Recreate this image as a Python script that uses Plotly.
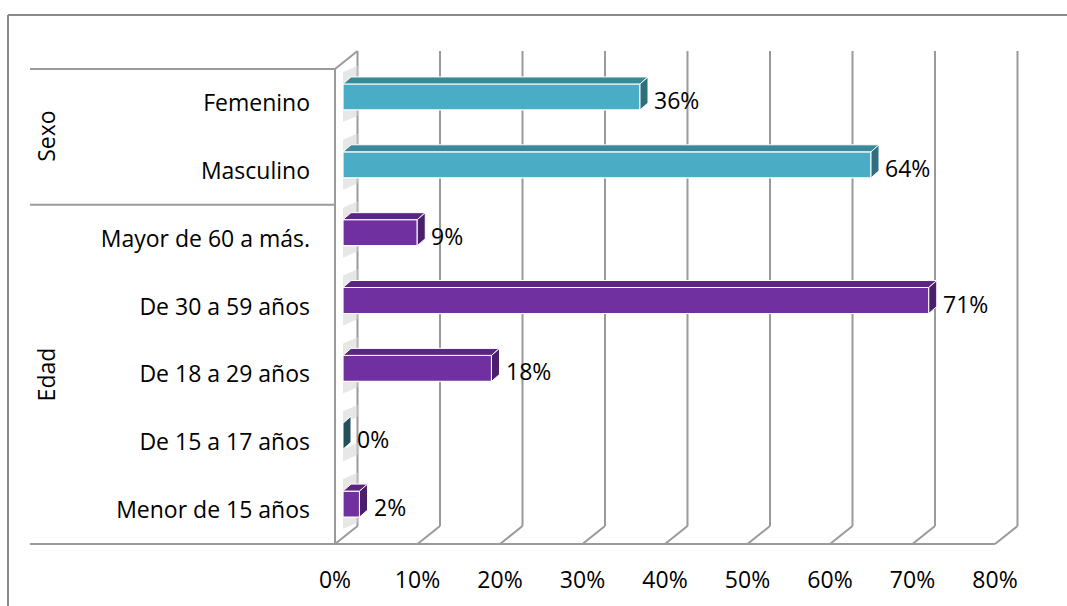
import plotly.graph_objects as go

# ---------------- data ----------------
categories = ["Menor de 15 años", "De 15 a 17 años", "De 18 a 29 años",
              "De 30 a 59 años", "Mayor de 60 a más.", "Masculino", "Femenino"]
values = [2, 0, 18, 71, 9, 64, 36]
groups = ["Edad", "Edad", "Edad", "Edad", "Edad", "Sexo", "Sexo"]
x_ticks = [0, 10, 20, 30, 40, 50, 60, 70, 80]
x_tick_labels = ["0%", "10%", "20%", "30%", "40%", "50%", "60%", "70%", "80%"]

# ---------------- geometry / style ----------------
W, H = 1067, 606
M_B = 46
PLOT_H = H - M_B
X0_PX, KX = 335.0, 8.25      # pixel of 0 %, pixels per percent
Y0_PX, KY = 510.1, 67.86     # pixel of first category centre, pixels per category
FONT = "Open Sans"
FS = 23

xr = [-X0_PX / KX, (W - X0_PX) / KX]
yr = [(Y0_PX - PLOT_H) / KY, Y0_PX / KY]

DX = 22.5 / KX     # full floor depth (x units)
DY = 18.0 / KY     # full floor depth (y units)
FDX, FDY = 8.0 / KX, 6.0 / KY   # bar front offset into depth
BDX, BDY = 8.0 / KX, 7.0 / KY   # bar depth
BW = 26.0 / KY     # bar thickness
SH = 12.0 / KY     # wall shadow extent

grid_col = "#9a9a9a"
colors = {"Sexo": ("#4BACC6", "#3A899B", "#2F6E7C"),
          "Edad": ("#7030A0", "#5A2682", "#4A1F6B")}

n = len(categories)
ypos = list(range(n))
y_lo, y_hi = -0.5, n - 0.5

fig = go.Figure()

# front faces of bars
for g in ["Sexo", "Edad"]:
    idx = [i for i in range(n) if groups[i] == g]
    fig.add_trace(go.Bar(
        orientation="h",
        x=[values[i] for i in idx],
        y=[ypos[i] + FDY for i in idx],
        base=FDX,
        width=BW,
        marker=dict(color=colors[g][0], line=dict(color="white", width=1.2)),
        hovertext=[categories[i] for i in idx],
        showlegend=False,
    ))

shapes = []
# back wall gridlines + floor slants
for t in x_ticks:
    shapes.append(dict(type="line", xref="x", yref="y", layer="below",
                       x0=t + DX, x1=t + DX, y0=y_lo + DY, y1=y_hi + DY,
                       line=dict(color=grid_col, width=2)))
    shapes.append(dict(type="line", xref="x", yref="y", layer="below",
                       x0=t, x1=t + DX, y0=y_lo, y1=y_lo + DY,
                       line=dict(color=grid_col, width=2)))
# floor front edge
shapes.append(dict(type="line", xref="x", yref="y", layer="below",
                   x0=x_ticks[0], x1=x_ticks[-1], y0=y_lo, y1=y_lo,
                   line=dict(color=grid_col, width=2)))
# left wall front edge and top slant
shapes.append(dict(type="line", xref="x", yref="y", layer="below",
                   x0=0, x1=0, y0=y_lo, y1=y_hi, line=dict(color=grid_col, width=2)))
shapes.append(dict(type="line", xref="x", yref="y", layer="below",
                   x0=0, x1=DX, y0=y_hi, y1=y_hi + DY, line=dict(color=grid_col, width=2)))

# soft shadows of bars on the left wall
for i in range(n):
    yc = ypos[i] + FDY
    yt, yb = yc + BW / 2, yc - BW / 2
    for (a, b) in [(yt, yt + SH), (yb - SH, yb)]:
        shapes.append(dict(type="path", xref="x", yref="y", layer="below",
                           path=f"M{FDX},{a} L{FDX},{b} L{DX+0.2},{b+BDY} L{DX+0.2},{a+BDY} Z",
                           fillcolor="#d4d4d4", opacity=0.55, line=dict(width=0)))

# category group separators
left_x = (30 - X0_PX) / KX
bounds = [y_lo]
for i in range(1, n):
    if groups[i] != groups[i - 1]:
        bounds.append(i - 0.5)
bounds.append(y_hi)
for b in bounds:
    shapes.append(dict(type="line", xref="x", yref="y", layer="below",
                       x0=left_x, x1=0, y0=b, y1=b, line=dict(color=grid_col, width=2)))

# top & side faces of bars
for i in range(n):
    v = values[i]
    front, top, side = colors[groups[i]]
    if v == 0:
        side = "#234F5B"
    x0, x1 = FDX, FDX + v
    yc = ypos[i] + FDY
    yt, yb = yc + BW / 2, yc - BW / 2
    if v > 0:
        shapes.append(dict(type="path", xref="x", yref="y", layer="above",
                           path=f"M{x0},{yt} L{x1},{yt} L{x1+BDX},{yt+BDY} L{x0+BDX},{yt+BDY} Z",
                           fillcolor=top, line=dict(color="white", width=1)))
    shapes.append(dict(type="path", xref="x", yref="y", layer="above",
                       path=f"M{x1},{yb} L{x1},{yt} L{x1+BDX},{yt+BDY} L{x1+BDX},{yb+BDY} Z",
                       fillcolor=side, line=dict(color="white", width=1)))

# outer chart border (top and left)
def py(p):  # pixel y -> paper y
    return 1 - p / PLOT_H
shapes.append(dict(type="line", xref="paper", yref="paper",
                   x0=8 / W, x1=1, y0=py(15), y1=py(15), line=dict(color="#8a8a8a", width=2)))
shapes.append(dict(type="line", xref="paper", yref="paper",
                   x0=8 / W, x1=8 / W, y0=py(15), y1=py(H + 5), line=dict(color="#8a8a8a", width=2)))

annotations = []
# value labels
for i in range(n):
    annotations.append(dict(x=FDX + BDX + values[i], y=ypos[i], xref="x", yref="y",
                            text=f"{values[i]}%", showarrow=False, xanchor="left",
                            xshift=4, yshift=3, font=dict(family=FONT, size=FS, color="black")))
# group labels
for gi in range(len(bounds) - 1):
    mid = (bounds[gi] + bounds[gi + 1]) / 2
    g = groups[int(round(bounds[gi] + 0.5))]
    annotations.append(dict(x=46 / W, y=mid, xref="paper", yref="y", text=g,
                            textangle=-90, showarrow=False, xanchor="center",
                            yanchor="middle",
                            font=dict(family=FONT, size=FS, color="black")))

fig.update_layout(
    width=W, height=H,
    margin=dict(l=0, r=0, t=0, b=M_B),
    paper_bgcolor="white", plot_bgcolor="white",
    font=dict(family=FONT, size=FS, color="black"),
    barmode="overlay",
    shapes=shapes,
    annotations=annotations,
    xaxis=dict(range=xr, domain=[0, 1], tickvals=x_ticks, ticktext=x_tick_labels,
               showgrid=False, zeroline=False, showline=False, ticks="",
               ticklabelstandoff=4, tickfont=dict(family=FONT, size=FS, color="black")),
    yaxis=dict(range=yr, anchor="free", position=X0_PX / W, tickvals=ypos,
               ticktext=categories, showgrid=False, zeroline=False, showline=False,
               ticks="", ticklabelstandoff=25,
               tickfont=dict(family=FONT, size=FS, color="black")),
)

fig.write_html("out.html")
